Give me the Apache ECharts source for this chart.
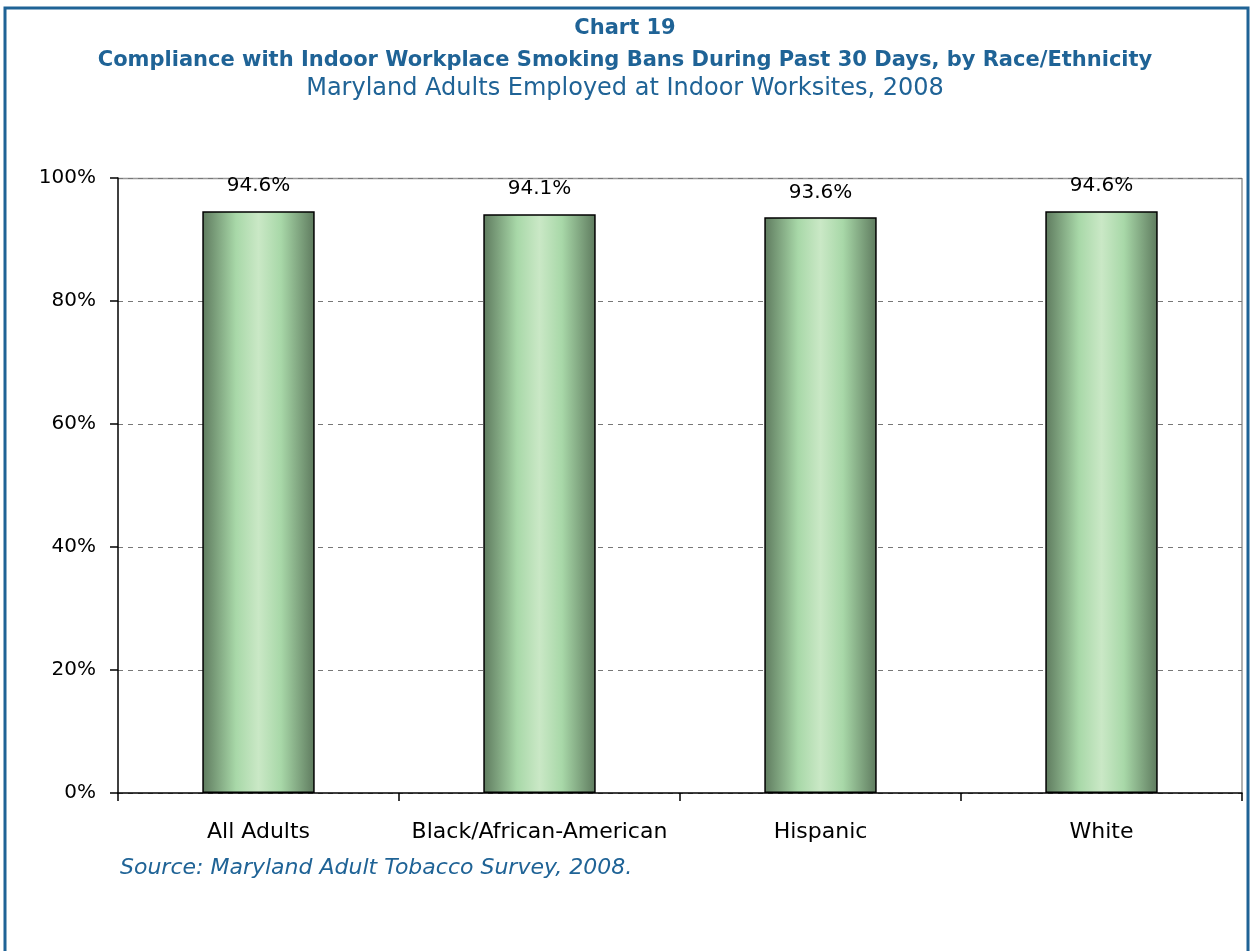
<!DOCTYPE html>
<html><head><meta charset="utf-8">
<script src="https://cdn.jsdelivr.net/npm/echarts@6/dist/echarts.min.js"></script>
<style>html,body{margin:0;padding:0;background:#fff}#c{width:1250px;height:951px}</style>
</head><body><div id="c"></div>
<script>
const categories = ["All Adults", "Black/African-American", "Hispanic", "White"];
const values = [94.6, 94.1, 93.6, 94.6];
const yTicks = [0, 20, 40, 60, 80, 100];

const FONT = "'DejaVu Sans', sans-serif";
const BLUE = "#1F6396";
const chart = echarts.init(document.getElementById('c'), null, {renderer: 'canvas'});
const barGrad = new echarts.graphic.LinearGradient(0, 0, 1, 0, [
  {offset: 0, color: '#5E7A5E'},
  {offset: 0.3, color: '#A8D8A8'},
  {offset: 0.5, color: '#CAE8C6'},
  {offset: 0.7, color: '#A8D8A8'},
  {offset: 1, color: '#5E7A5E'}
]);
chart.setOption({
  animation: false,
  backgroundColor: '#fff',
  title: [
    {text: 'Chart 19', left: 'center', top: 13, textStyle: {fontFamily: FONT, fontSize: 21, fontWeight: 'bold', color: BLUE}},
    {text: 'Compliance with Indoor Workplace Smoking Bans During Past 30 Days, by Race/Ethnicity', left: 'center', top: 45, textStyle: {fontFamily: FONT, fontSize: 21, fontWeight: 'bold', color: BLUE}},
    {text: 'Maryland Adults Employed at Indoor Worksites, 2008', left: 'center', top: 72, textStyle: {fontFamily: FONT, fontSize: 24, fontWeight: 'normal', color: BLUE}},
    {text: 'Source: Maryland Adult Tobacco Survey, 2008.', left: 115, top: 852, textStyle: {fontFamily: FONT, fontSize: 22, fontStyle: 'italic', fontWeight: 'normal', color: BLUE}}
  ],
  graphic: [
    {type: 'rect', shape: {x: 5, y: 8, width: 1243, height: 960}, style: {fill: 'none', stroke: '#1F6396', lineWidth: 3}, silent: true},
    {type: 'line', shape: {x1: 118, y1: 178.5, x2: 1242, y2: 178.5}, style: {stroke: '#999', lineWidth: 1.5}, silent: true},
    {type: 'line', shape: {x1: 1242, y1: 178, x2: 1242, y2: 793}, style: {stroke: '#999', lineWidth: 1.5}, silent: true}
  ],
  grid: {left: 118, right: 8, top: 178, bottom: 158, containLabel: false},
  xAxis: {
    type: 'category', data: categories,
    axisLine: {lineStyle: {color: '#000', width: 1.5}},
    axisTick: {show: true, interval: 0, length: 8, lineStyle: {color: '#000', width: 1.5}},
    axisLabel: {interval: 0, fontFamily: FONT, fontSize: 22, color: '#000', margin: 28}
  },
  yAxis: {
    type: 'value', min: 0, max: 100, interval: 20,
    axisLine: {show: true, lineStyle: {color: '#000', width: 1.5}},
    axisTick: {show: true, length: 8, inside: false, lineStyle: {color: '#000', width: 1.5}},
    axisLabel: {fontFamily: FONT, fontSize: 20, color: '#000', margin: 22, formatter: v => yTicks.includes(v) ? v + '%' : ''},
    splitLine: {show: true, lineStyle: {color: '#777', type: [5, 5], width: 1}}
  },
  series: [{
    type: 'bar', data: values, barWidth: '40%',
    itemStyle: {color: barGrad, borderColor: '#000', borderWidth: 1.5},
    label: {show: true, position: 'top', distance: 15, formatter: p => p.value.toFixed(1) + '%', fontFamily: FONT, fontSize: 20, color: '#000'}
  }]
});
</script></body></html>
